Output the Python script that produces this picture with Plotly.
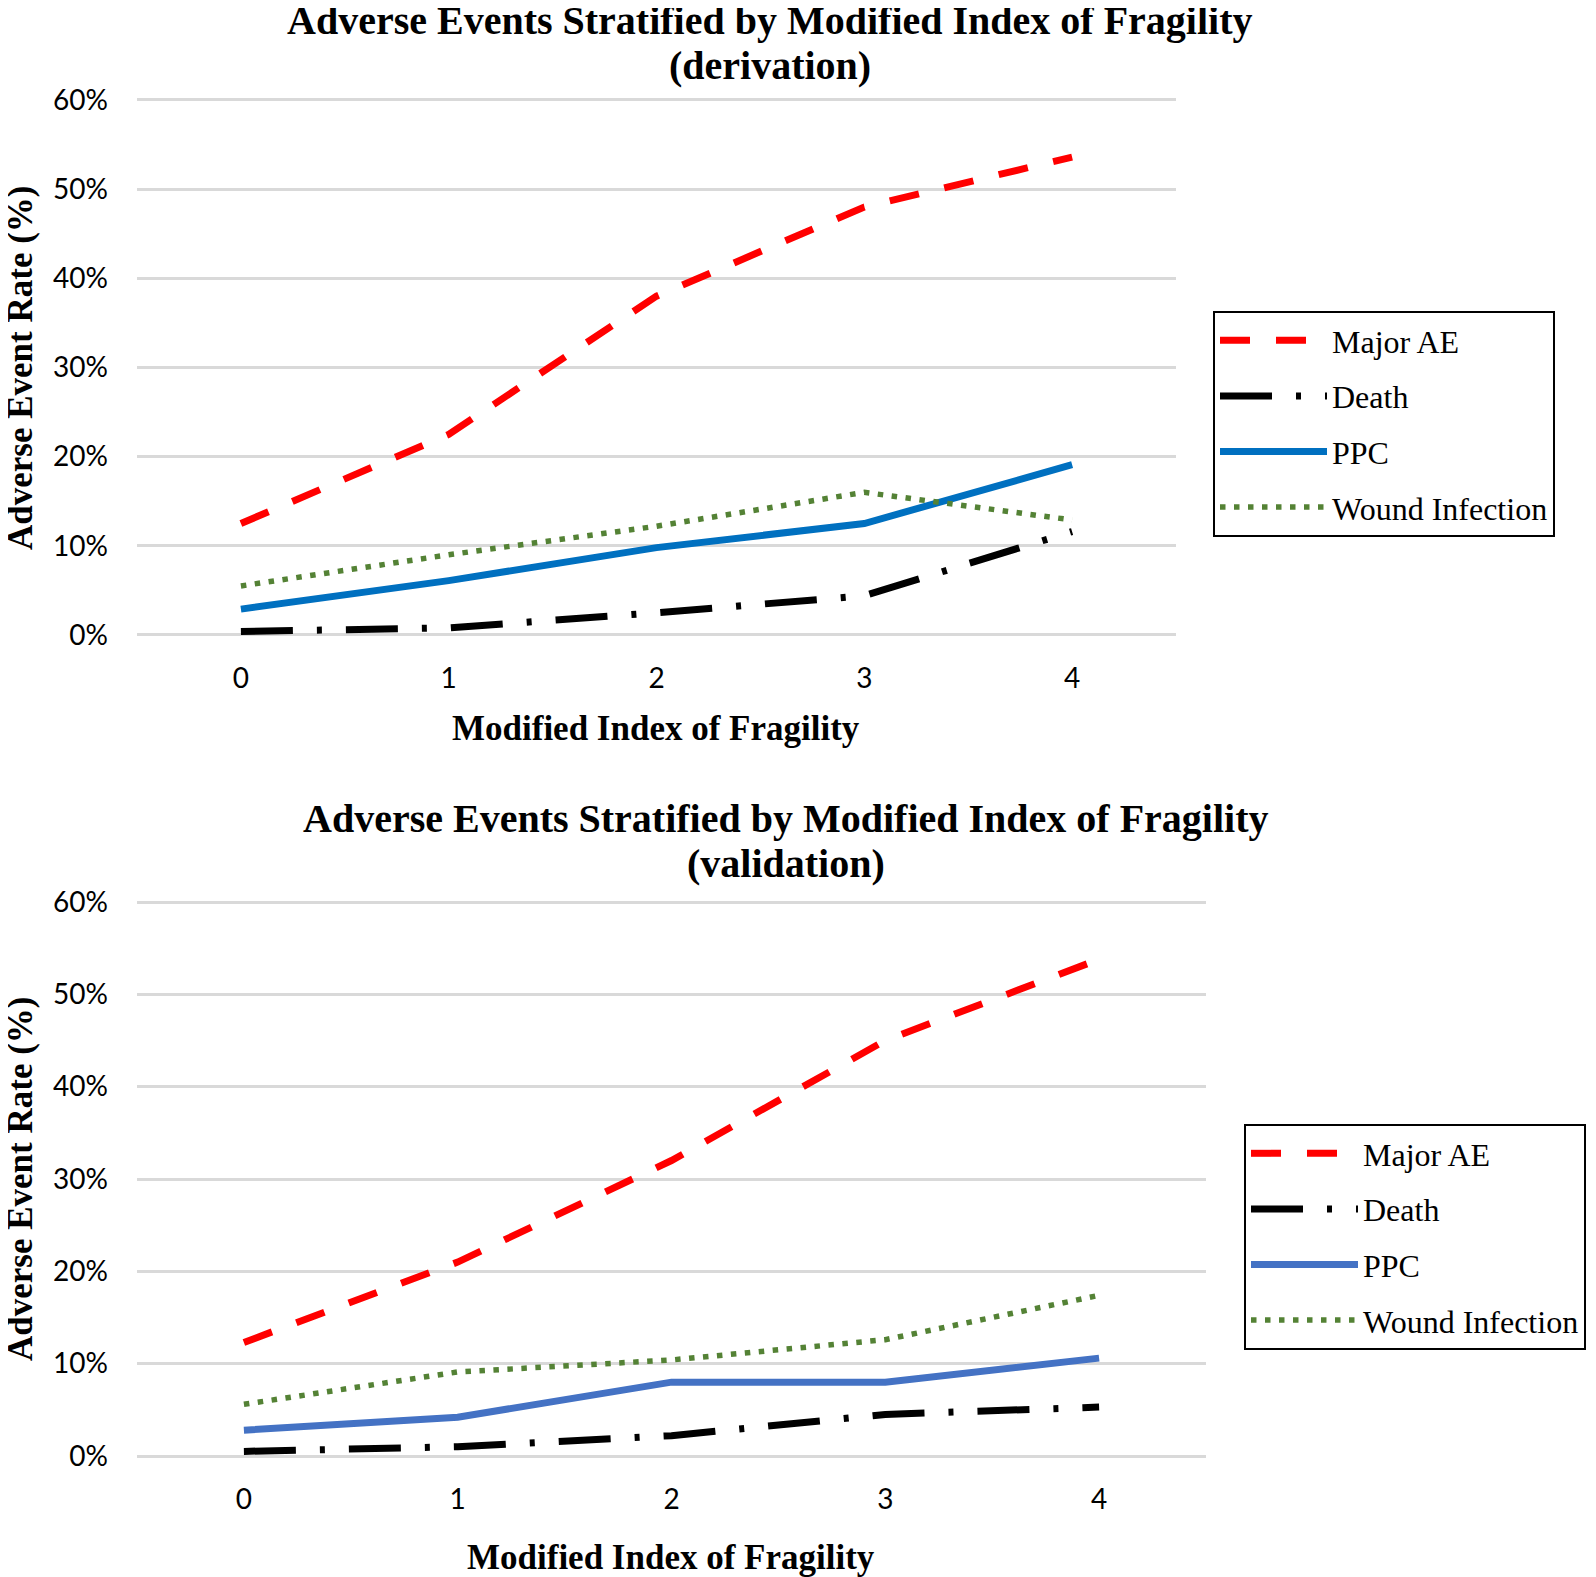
import plotly.graph_objects as go

# MIF score categories
mif = [0, 1, 2, 3, 4]

# derivation cohort rates (%)
der_major_ae = [12.5, 22.5, 38.0, 48.0, 53.6]
der_death = [0.4, 0.8, 2.5, 4.4, 11.6]
der_ppc = [2.9, 6.1, 9.8, 12.5, 19.1]
der_wound = [5.5, 9.0, 12.2, 16.0, 12.9]

# validation cohort rates (%)
val_major_ae = [12.3, 21.0, 32.0, 45.0, 53.8]
val_death = [0.5, 1.0, 2.2, 4.5, 5.3]
val_ppc = [2.8, 4.2, 8.0, 8.0, 10.6]
val_wound = [5.6, 9.1, 10.4, 12.6, 17.4]

y_ticks = [0, 10, 20, 30, 40, 50, 60]
y_tick_text = [f"{v}%" for v in y_ticks]

series = ["Major AE", "Death", "PPC", "Wound Infection"]
styles = {
    "Major AE": dict(color="#FF0000", width=7, dash="30px,26px"),
    "Death": dict(color="#000000", width=7, dash="52px,24px,5px,24px"),
    "PPC": dict(color="#0070C0", width=7, dash="solid"),
    "Wound Infection": dict(color="#548235", width=5.5, dash="5.5px,8.5px"),
}

W, H = 1596, 1577
OFF = 8  # default body margin of the html page
serif = "Liberation Serif"
sans = "Lato"
PAD = 0.002  # small y padding so the 60% gridline is drawn

fig = go.Figure()

panels = [
    ("", "legend", [der_major_ae, der_death, der_ppc, der_wound], "#0070C0"),
    ("2", "legend2", [val_major_ae, val_death, val_ppc, val_wound], "#4472C4"),
]
for suffix, leg, values, ppc_color in panels:
    for name, ys in zip(series, values):
        line = dict(styles[name])
        if name == "PPC":
            line["color"] = ppc_color
        fig.add_trace(go.Scatter(
            x=mif, y=[v / 100 for v in ys], name=name, mode="lines",
            line=line, legend=leg, legendgroup=name + suffix,
            xaxis="x" + suffix, yaxis="y" + suffix,
        ))


def px_x(v):
    return (v - OFF) / W


def px_y(v):
    return 1 - (v - OFF) / H


def y_domain(top, bottom):
    # top/bottom are pixel rows of the 60% and 0% gridlines
    ppu = (bottom - top) / 0.6
    return [px_y(bottom + PAD * ppu), px_y(top - PAD * ppu)]


axis_common = dict(showline=False, zeroline=False, ticks="", automargin=False)
x_common = dict(
    axis_common, range=[-0.5, 4.5], tickvals=mif, showgrid=False,
    tickfont=dict(family=sans, size=28, color="black"),
    ticklabelstandoff=22,
)
y_common = dict(
    axis_common, range=[-PAD, 0.6 + PAD], tickvals=[v / 100 for v in y_ticks],
    ticktext=y_tick_text, showgrid=True, gridcolor="#D9D9D9", gridwidth=3,
    tickfont=dict(family=sans, size=28, color="black"),
    ticklabelstandoff=28,
)

legend_common = dict(
    font=dict(family=serif, size=32, color="black"),
    bordercolor="black", borderwidth=2, bgcolor="white",
    traceorder="grouped", tracegroupgap=11, itemwidth=107,
    xanchor="left", yanchor="top",
)

fig.update_layout(
    width=W, height=H, margin=dict(l=0, r=0, t=0, b=0),
    plot_bgcolor="white", paper_bgcolor="white", showlegend=True,
    xaxis=dict(x_common, domain=[px_x(137), px_x(1176)], anchor="y"),
    yaxis=dict(y_common, domain=y_domain(100, 635), anchor="x"),
    xaxis2=dict(x_common, domain=[px_x(137), px_x(1206)], anchor="y2"),
    yaxis2=dict(y_common, domain=y_domain(902, 1456), anchor="x2"),
    legend=dict(legend_common, x=px_x(1213), y=px_y(311)),
    legend2=dict(legend_common, x=px_x(1244), y=px_y(1124)),
)

title_font = dict(family=serif, size=40, color="black")
label_font = dict(family=serif, size=35, color="black")
annotations = [
    ("<b>Adverse Events Stratified by Modified Index of Fragility</b>", 770, 20, title_font, 0),
    ("<b>(derivation)</b>", 770, 65, title_font, 0),
    ("<b>Adverse Events Stratified by Modified Index of Fragility</b>", 786, 818, title_font, 0),
    ("<b>(validation)</b>", 786, 863, title_font, 0),
    ("<b>Modified Index of Fragility</b>", 656, 728, label_font, 0),
    ("<b>Modified Index of Fragility</b>", 671, 1557, label_font, 0),
    ("<b>Adverse Event Rate (%)</b>", 20, 368, label_font, -90),
    ("<b>Adverse Event Rate (%)</b>", 20, 1179, label_font, -90),
]
for text, ax, ay, font, angle in annotations:
    fig.add_annotation(
        text=text, x=px_x(ax), y=px_y(ay), xref="paper", yref="paper",
        xanchor="center", yanchor="middle", showarrow=False,
        font=font, textangle=angle,
    )

fig.write_html("out.html")
